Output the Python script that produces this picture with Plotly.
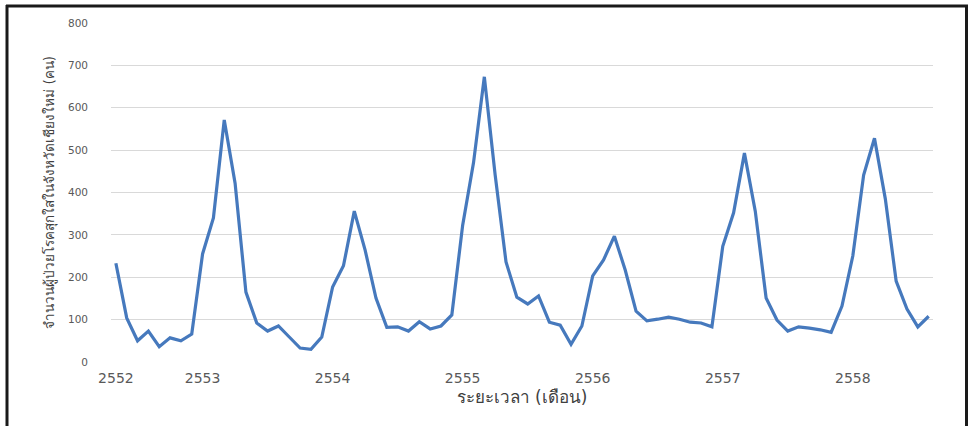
import plotly.graph_objects as go

# Monthly chickenpox cases, May 2552 - Aug 2558 (index 0 = May 2552)
cases = [233, 104, 50, 73, 36, 57, 50, 66, 255, 340, 571, 422,
         165, 92, 73, 85, 59, 33, 30, 59, 177, 227, 356, 264,
         151, 82, 83, 73, 95, 78, 85, 111, 323, 470, 673, 441,
         236, 153, 137, 156, 94, 87, 42, 85, 203, 241, 297, 217,
         120, 97, 101, 106, 101, 94, 92, 83, 273, 352, 493, 356,
         151, 99, 73, 83, 80, 76, 70, 132, 250, 441, 528, 385,
         191, 125, 83, 108]
month_index = list(range(len(cases)))
tick_positions = [0, 8, 20, 32, 44, 56, 68]
tick_labels = ["2552", "2553", "2554", "2555", "2556", "2557", "2558"]
y_ticks = [0, 100, 200, 300, 400, 500, 600, 700, 800]

fig = go.Figure()
fig.add_trace(go.Scatter(
    x=month_index, y=cases, mode="lines",
    line=dict(color="#4679BD", width=3.2),
    hoverinfo="skip", showlegend=False,
))

# plot area in pixels: x 111..933, y 23..362
L, R, T, B = 111, 933, 23, 362
W, H = 970, 426
def px(x):
    return (x - L) / (R - L)
def py(y):
    return (B - y) / (B - T)

shapes = [
    dict(type="line", xref="paper", yref="paper", x0=px(7), x1=px(7), y0=py(5), y1=py(430),
         line=dict(color="#1a1a1a", width=3)),
    dict(type="line", xref="paper", yref="paper", x0=px(6), x1=px(968), y0=py(6), y1=py(6),
         line=dict(color="#1a1a1a", width=3)),
    dict(type="line", xref="paper", yref="paper", x0=px(966.5), x1=px(966.5), y0=py(5), y1=py(430),
         line=dict(color="#1a1a1a", width=3)),
]

fig.update_layout(
    width=W, height=H,
    margin=dict(l=L, r=W - R, t=T, b=H - B),
    paper_bgcolor="white", plot_bgcolor="white",
    font=dict(family="DejaVu Sans", color="#595959"),
    shapes=shapes,
    xaxis=dict(
        range=[-0.45, 75.4], tickmode="array", tickvals=tick_positions, ticktext=tick_labels,
        showgrid=False, zeroline=False, showline=False, ticks="", ticklabelstandoff=6,
        tickfont=dict(size=14, color="#595959", family="DejaVu Sans"),
        title=dict(text="ระยะเวลา (เดือน)", font=dict(size=17, color="#404040"), standoff=6),
    ),
    yaxis=dict(
        range=[0, 800], tickmode="array", tickvals=y_ticks,
        showgrid=True, gridcolor="#d9d9d9", gridwidth=1, zeroline=False, showline=False,
        ticks="", ticklabelstandoff=22,
        tickfont=dict(size=10.5, color="#595959", family="DejaVu Sans"),
        title=dict(text="จำนวนผู้ป่วยโรคสุกใสในจังหวัดเชียงใหม่ (คน)",
                   font=dict(size=13.5, color="#404040"), standoff=10),
    ),
)

fig.write_html("out.html", config={"displayModeBar": False},
               post_script="document.body.style.margin='0';")
